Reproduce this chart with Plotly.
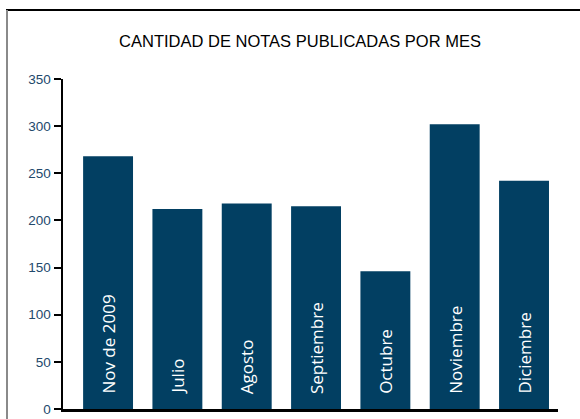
import plotly.graph_objects as go

categories = ["Nov de 2009", "Julio", "Agosto", "Septiembre", "Octubre", "Noviembre", "Diciembre"]
values = [268, 212, 218, 215, 146, 302, 242]
y_ticks = [0, 50, 100, 150, 200, 250, 300, 350]

W, H = 580, 419
L, R, T, B = 63, 22, 79, 10
pw, ph = W - L - R, H - T - B

def px_x(p):
    return (p - L) / pw

def px_y(p):
    return (H - B - p) / ph

bar_color = "#023f62"

fig = go.Figure()
fig.add_trace(go.Bar(
    x=list(range(len(categories))), y=values, width=0.72,
    marker=dict(color=bar_color, line=dict(width=0)),
    hoverinfo="skip",
))

for i, c in enumerate(categories):
    fig.add_annotation(
        x=i, y=0, xref="x", yref="y", text=c, textangle=-90,
        showarrow=False, xanchor="center", yanchor="bottom", yshift=13,
        font=dict(family="Open Sans", size=17, color="white"),
    )

fig.update_layout(
    width=W, height=H,
    margin=dict(l=L, r=R, t=T, b=B, autoexpand=False),
    paper_bgcolor="white", plot_bgcolor="white",
    showlegend=False,
    title=dict(text="CANTIDAD DE NOTAS PUBLICADAS POR MES", x=300 / W, xref="container",
               xanchor="center", y=1 - 41 / H, yref="container", yanchor="middle",
               automargin=False,
               font=dict(family="Liberation Sans", size=16.5, color="black")),
    xaxis=dict(range=[-0.65, 6.49], showticklabels=False, ticks="", showgrid=False,
               zeroline=False, showline=True, linecolor="black", linewidth=2.5,
               fixedrange=True, automargin=False),
    yaxis=dict(range=[0, 350], tickvals=y_ticks, ticks="outside", ticklen=7, tickwidth=2,
               tickcolor="black", showline=True, linecolor="black", linewidth=2.5,
               showgrid=False, zeroline=False, automargin=False,
               tickfont=dict(family="Liberation Sans", size=13.5, color="#22496c")),
    shapes=[
        dict(type="line", xref="paper", yref="paper", x0=px_x(6), x1=px_x(W + 5),
             y0=px_y(10), y1=px_y(10), line=dict(color="black", width=2)),
        dict(type="line", xref="paper", yref="paper", x0=px_x(7), x1=px_x(7),
             y0=px_y(10), y1=px_y(H + 5), line=dict(color="#8a8a8a", width=2)),
    ],
)

fig.write_html(
    "out.html",
    config={"displayModeBar": False, "staticPlot": True},
    post_script="document.body.style.margin='0';document.body.style.overflow='hidden';",
)
